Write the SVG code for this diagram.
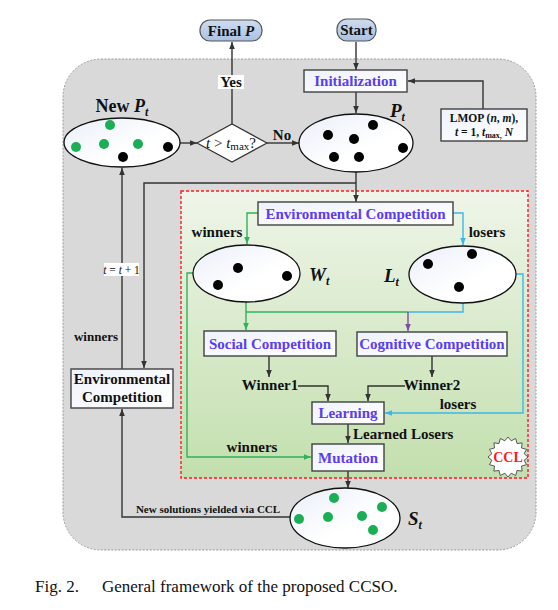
<svg xmlns="http://www.w3.org/2000/svg" width="558" height="610" viewBox="0 0 558 610">
<style>
text{font-family:"Liberation Serif","Times New Roman",serif;font-weight:bold;fill:#111}
text.nw{font-weight:normal}
.bl{fill:#5b3cf2;font-size:15px}
.lb{font-size:15px}
.box{fill:url(#gb);stroke:#404040;stroke-width:1.4}
.ell{fill:url(#ge);stroke:#111;stroke-width:1.3}
.k{stroke:#333;stroke-width:1.4;fill:none}
.g{stroke:#2eb35a;stroke-width:1.4;fill:none}
.c{stroke:#3cb8e8;stroke-width:1.4;fill:none}
.p{stroke:#7b4ea3;stroke-width:1.4;fill:none}
.dk{fill:#000}
.dg{fill:#1aaf54}
</style>
<defs>
<linearGradient id="gb" x1="0" y1="0" x2="1" y2="1"><stop offset="0" stop-color="#eef2fb"/><stop offset="1" stop-color="#ffffff"/></linearGradient>
<linearGradient id="ge" x1="0" y1="0" x2="1" y2="1"><stop offset="0" stop-color="#eaeff9"/><stop offset="0.6" stop-color="#ffffff"/></linearGradient>
<linearGradient id="gg" x1="0" y1="0" x2="0" y2="1"><stop offset="0" stop-color="#eff5e9"/><stop offset="1" stop-color="#c3dfae"/></linearGradient>
<linearGradient id="gp" x1="0" y1="0" x2="0" y2="1"><stop offset="0" stop-color="#cfdcef"/><stop offset="1" stop-color="#a9c1e2"/></linearGradient>
<marker id="ak" viewBox="0 0 10 10" refX="10" refY="5" markerWidth="7" markerHeight="7" markerUnits="userSpaceOnUse" orient="auto"><path d="M0,1 L10,5 L0,9 z" fill="#333"/></marker>
<marker id="ag" viewBox="0 0 10 10" refX="10" refY="5" markerWidth="7" markerHeight="7" markerUnits="userSpaceOnUse" orient="auto"><path d="M0,1 L10,5 L0,9 z" fill="#2eb35a"/></marker>
<marker id="ac" viewBox="0 0 10 10" refX="10" refY="5" markerWidth="7" markerHeight="7" markerUnits="userSpaceOnUse" orient="auto"><path d="M0,1 L10,5 L0,9 z" fill="#3cb8e8"/></marker>
<marker id="ap" viewBox="0 0 10 10" refX="10" refY="5" markerWidth="7" markerHeight="7" markerUnits="userSpaceOnUse" orient="auto"><path d="M0,1 L10,5 L0,9 z" fill="#7b4ea3"/></marker>
</defs>

<rect x="0" y="0" width="558" height="610" fill="#ffffff"/>
<rect id="framework" x="63" y="59" width="473" height="491" rx="38" fill="#d9d9d9" stroke="#9a9a9a" stroke-width="1" stroke-dasharray="2,1.5"/>
<rect id="ccl-region" x="181" y="191" width="347" height="287" fill="url(#gg)" stroke="#ff1a1a" stroke-width="1.4" stroke-dasharray="3,2"/>

<g id="connectors">
<line class="k" x1="356" y1="42" x2="356" y2="70" marker-end="url(#ak)"/>
<line class="k" x1="356" y1="92" x2="356" y2="113" marker-end="url(#ak)"/>
<polyline class="k" points="483,109 483,81 408,81" marker-end="url(#ak)"/>
<line class="k" x1="180" y1="143" x2="197" y2="143" marker-end="url(#ak)"/>
<line class="k" x1="267" y1="143" x2="299" y2="143" marker-end="url(#ak)"/>
<line class="k" x1="232" y1="124" x2="232" y2="42" marker-end="url(#ak)"/>
<line class="k" x1="356" y1="172" x2="356" y2="202" marker-end="url(#ak)"/>
<polyline class="k" points="356,183 144,183 144,368" marker-end="url(#ak)"/>
<line class="k" x1="122" y1="369" x2="122" y2="168" marker-end="url(#ak)"/>
<polyline class="k" points="290,517 122,517 122,409" marker-end="url(#ak)"/>
<polyline class="g" points="258,213 247,213 247,244" marker-end="url(#ag)"/>
<polyline class="c" points="453,213 463,213 463,245" marker-end="url(#ac)"/>
<line class="g" x1="246" y1="302" x2="246" y2="330" marker-end="url(#ag)"/>
<polyline class="g" points="246,312 408,312"/>
<polyline class="c" points="463,303 463,312 408,312"/>
<line class="p" x1="408" y1="312" x2="408" y2="331" marker-end="url(#ap)"/>
<line class="k" x1="269" y1="356" x2="269" y2="377" marker-end="url(#ak)"/>
<line class="k" x1="432" y1="356" x2="432" y2="377" marker-end="url(#ak)"/>
<polyline class="k" points="298,386 328,386 328,401" marker-end="url(#ak)"/>
<polyline class="k" points="405,386 368,386 368,401" marker-end="url(#ak)"/>
<polyline class="c" points="516,274 523,274 523,413 385,413" marker-end="url(#ac)"/>
<polyline class="g" points="193,273 187,273 187,457 311,457" marker-end="url(#ag)"/>
<line class="k" x1="348" y1="424" x2="348" y2="443" marker-end="url(#ak)"/>
<line class="k" x1="348" y1="471" x2="348" y2="488" marker-end="url(#ak)"/>
</g>

<g id="final-p">
<rect x="200" y="20" width="62" height="21" rx="10" fill="url(#gp)" stroke="#555" stroke-width="1.2"/>
<text x="231" y="36" text-anchor="middle" font-size="15">Final <tspan font-style="italic">P</tspan></text>
</g>
<g id="start">
<rect x="337" y="19" width="39" height="22" rx="10" fill="url(#gp)" stroke="#555" stroke-width="1.2"/>
<text x="356.5" y="35" text-anchor="middle" font-size="15">Start</text>
</g>
<g id="initialization">
<rect class="box" x="304" y="70" width="103" height="22"/>
<text class="bl" x="355.5" y="86" text-anchor="middle">Initialization</text>
</g>
<g id="lmop">
<rect class="box" x="441" y="109" width="86" height="32"/>
<text x="484" y="122" text-anchor="middle" font-size="11.5">LMOP (<tspan font-style="italic">n</tspan>, <tspan font-style="italic">m</tspan>),</text>
<text x="484" y="136" text-anchor="middle" font-size="11.5"><tspan font-style="italic">t</tspan> = 1, <tspan font-style="italic">t</tspan><tspan font-size="8" dy="2">max,</tspan><tspan dy="-2"> </tspan><tspan font-style="italic">N</tspan></text>
</g>
<g id="yes-label">
<rect x="218" y="75" width="26" height="14" fill="#fff"/>
<text class="lb" x="231" y="87" text-anchor="middle">Yes</text>
</g>
<g id="no-label"><text class="lb" x="282" y="140" text-anchor="middle">No</text></g>
<g id="decision">
<polygon points="197,143 232,124 267,143 232,162" fill="#fff" stroke="#333" stroke-width="1.2"/>
<text class="nw" x="231" y="148" text-anchor="middle" font-size="15"><tspan font-style="italic">t</tspan> &gt; <tspan font-style="italic">t</tspan><tspan font-size="11" dy="2">max</tspan><tspan dy="-2">?</tspan></text>
</g>
<g id="new-pt">
<ellipse class="ell" cx="122" cy="142.5" rx="58" ry="24.5"/>
<text x="122" y="112" text-anchor="middle" font-size="18">New <tspan font-style="italic">P</tspan><tspan font-style="italic" font-size="12" dy="4">t</tspan></text>
<circle class="dg" cx="110" cy="125" r="5"/>
<circle class="dg" cx="76" cy="147" r="5"/>
<circle class="dg" cx="104" cy="144" r="5"/>
<circle class="dg" cx="138" cy="144" r="5"/>
<circle class="dk" cx="123" cy="157" r="5"/>
<circle class="dk" cx="168" cy="147" r="5"/>
</g>
<g id="pt">
<ellipse class="ell" cx="356" cy="143" rx="57" ry="29"/>
<text x="390" y="117" font-size="19" font-style="italic">P<tspan font-size="12" dy="4">t</tspan></text>
<circle class="dk" cx="328" cy="135" r="5"/>
<circle class="dk" cx="354" cy="139" r="5"/>
<circle class="dk" cx="373" cy="125" r="5"/>
<circle class="dk" cx="403" cy="148" r="5"/>
<circle class="dk" cx="334" cy="157" r="5"/>
<circle class="dk" cx="359" cy="157" r="5"/>
</g>
<g id="t-update">
<rect x="104" y="263" width="35" height="13" fill="#fff"/>
<text class="nw" x="121.5" y="274" text-anchor="middle" font-size="11.5"><tspan font-style="italic">t</tspan> = <tspan font-style="italic">t</tspan> + 1</text>
</g>
<g id="winners-left"><text x="96" y="341" text-anchor="middle" font-size="13">winners</text></g>
<g id="env-comp-outer">
<rect class="box" x="71" y="369" width="102" height="39"/>
<text class="lb" x="122" y="384" text-anchor="middle">Environmental</text>
<text class="lb" x="122" y="402" text-anchor="middle">Competition</text>
</g>
<g id="env-comp-inner">
<rect class="box" x="258" y="202" width="195" height="23"/>
<text class="bl" x="355.5" y="219" text-anchor="middle">Environmental Competition</text>
</g>
<g id="winners-top"><text class="lb" x="217" y="237" text-anchor="middle">winners</text></g>
<g id="losers-top"><text class="lb" x="487" y="237" text-anchor="middle">losers</text></g>
<g id="wt">
<ellipse class="ell" cx="246.5" cy="273.5" rx="53.5" ry="28.5"/>
<text x="309" y="281" font-size="19" font-style="italic">W<tspan font-size="12" dy="4">t</tspan></text>
<circle class="dk" cx="238" cy="268" r="5"/>
<circle class="dk" cx="218" cy="285" r="5"/>
<circle class="dk" cx="287" cy="276" r="5"/>
</g>
<g id="lt">
<ellipse class="ell" cx="462.5" cy="274.5" rx="53.5" ry="28.5"/>
<text x="384" y="282" font-size="19" font-style="italic">L<tspan font-size="12" dy="4">t</tspan></text>
<circle class="dk" cx="428" cy="264" r="5"/>
<circle class="dk" cx="472" cy="254" r="5"/>
<circle class="dk" cx="459" cy="287" r="5"/>
</g>
<g id="social-comp">
<rect class="box" x="204" y="331" width="132" height="25"/>
<text class="bl" x="270" y="349" text-anchor="middle">Social Competition</text>
</g>
<g id="cognitive-comp">
<rect class="box" x="357" y="332" width="150" height="24"/>
<text class="bl" x="432" y="349" text-anchor="middle">Cognitive Competition</text>
</g>
<g id="winner1"><text class="lb" x="270" y="390" text-anchor="middle">Winner1</text></g>
<g id="winner2"><text class="lb" x="432" y="390" text-anchor="middle">Winner2</text></g>
<g id="losers-mid"><text class="lb" x="458" y="409" text-anchor="middle">losers</text></g>
<g id="learning">
<rect class="box" x="312" y="402" width="72" height="22"/>
<text class="bl" x="348" y="418" text-anchor="middle">Learning</text>
</g>
<g id="learned-losers"><text class="lb" x="353" y="439">Learned Losers</text></g>
<g id="winners-bottom"><text class="lb" x="252" y="452" text-anchor="middle">winners</text></g>
<g id="mutation">
<rect class="box" x="312" y="444" width="72" height="27"/>
<text class="bl" x="348" y="463" text-anchor="middle">Mutation</text>
</g>
<g id="ccl-badge" transform="translate(508,457)">
<polygon fill="#fff" stroke="#333" stroke-width="0.8" points="20,0 16.2,3.2 18.5,7.7 13.5,9 14.1,14.1 9,13.5 7.7,18.5 3.2,16.2 0,20 -3.2,16.2 -7.7,18.5 -9,13.5 -14.1,14.1 -13.5,9 -18.5,7.7 -16.2,3.2 -20,0 -16.2,-3.2 -18.5,-7.7 -13.5,-9 -14.1,-14.1 -9,-13.5 -7.7,-18.5 -3.2,-16.2 0,-20 3.2,-16.2 7.7,-18.5 9,-13.5 14.1,-14.1 13.5,-9 18.5,-7.7 16.2,-3.2"/>
<text x="0" y="5" text-anchor="middle" font-size="14" style="fill:#ff1a1a">CCL</text>
</g>
<g id="st">
<ellipse class="ell" cx="345" cy="518" rx="55" ry="30"/>
<text x="408" y="525" font-size="19" font-style="italic">S<tspan font-size="12" dy="4">t</tspan></text>
<circle class="dg" cx="334" cy="498" r="5"/>
<circle class="dg" cx="299" cy="519" r="5"/>
<circle class="dg" cx="328" cy="517" r="5"/>
<circle class="dg" cx="362" cy="516" r="5"/>
<circle class="dg" cx="382" cy="507" r="5"/>
<circle class="dg" cx="373" cy="530" r="5"/>
</g>
<g id="new-solutions-label"><text x="208" y="513" text-anchor="middle" font-size="11">New solutions yielded via CCL</text></g>
<g id="caption">
<text class="nw" x="35" y="592" font-size="17">Fig. 2.</text>
<text class="nw" x="102" y="592" font-size="17">General framework of the proposed CCSO.</text>
</g>
</svg>
